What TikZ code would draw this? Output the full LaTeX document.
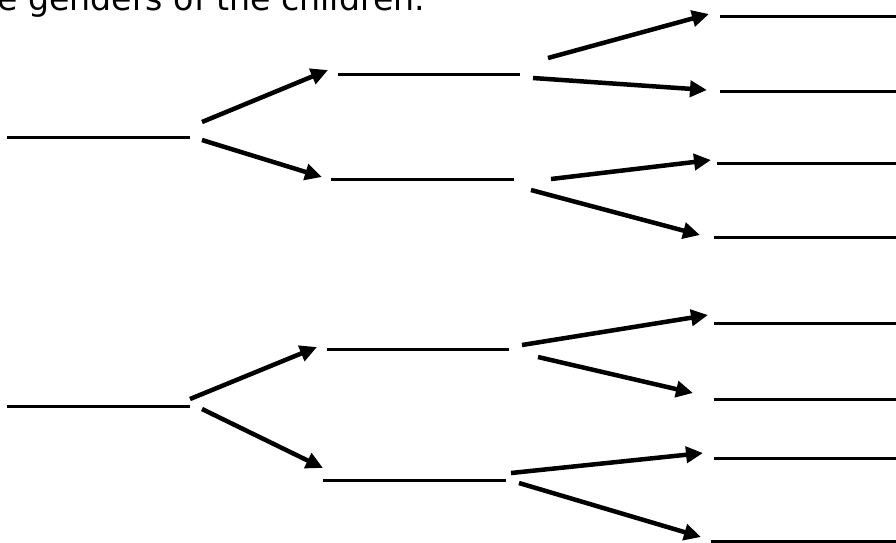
\documentclass[tikz,border=0pt]{standalone}
\usepackage{fontspec}
\setmainfont{DejaVu Sans}
\usetikzlibrary{arrows.meta}
\begin{document}
\begin{tikzpicture}[x=1pt,y=-1pt,
  blankline/.style={line width=3pt},
  branch/.style={line width=4.5pt,-{Triangle[length=17pt,width=16pt]}}]
\useasboundingbox (0,0) rectangle (896,542);
\node[anchor=base west, inner sep=0, font=\fontsize{33.2}{40}\selectfont] (title) at (-3,10) {e genders of the children.};
% blanks: level 1
\coordinate (P1w) at (7,137);   \coordinate (P1e) at (190,137);
\coordinate (P2w) at (7,406);   \coordinate (P2e) at (190,406);
% level 2
\coordinate (Q1w) at (338,74);  \coordinate (Q1e) at (520,74);
\coordinate (Q2w) at (331,179); \coordinate (Q2e) at (514,179);
\coordinate (Q3w) at (327,349); \coordinate (Q3e) at (509,349);
\coordinate (Q4w) at (323,480); \coordinate (Q4e) at (506,480);
% level 3
\coordinate (R1w) at (720,16);  \coordinate (R1e) at (900,16);
\coordinate (R2w) at (720,91);  \coordinate (R2e) at (900,91);
\coordinate (R3w) at (717,163); \coordinate (R3e) at (900,163);
\coordinate (R4w) at (714,237); \coordinate (R4e) at (900,237);
\coordinate (R5w) at (714,323); \coordinate (R5e) at (900,323);
\coordinate (R6w) at (714,399); \coordinate (R6e) at (900,399);
\coordinate (R7w) at (714,458); \coordinate (R7e) at (900,458);
\coordinate (R8w) at (711,541); \coordinate (R8e) at (900,541);
\foreach \n in {P1,P2,Q1,Q2,Q3,Q4,R1,R2,R3,R4,R5,R6,R7,R8}
  \draw[blankline] (\n w) -- (\n e);
% arrow end points
\coordinate (a1s) at (202,122); \coordinate (a1t) at (328,70);
\coordinate (a2s) at (202,140); \coordinate (a2t) at (322,177);
\coordinate (a3s) at (548,58);  \coordinate (a3t) at (709,14);
\coordinate (a4s) at (533,78);  \coordinate (a4t) at (707,90);
\coordinate (a5s) at (551,179); \coordinate (a5t) at (711,160);
\coordinate (a6s) at (531,190); \coordinate (a6t) at (700,235);
\coordinate (a7s) at (190,399); \coordinate (a7t) at (317,347);
\coordinate (a8s) at (202,409); \coordinate (a8t) at (323,468);
\coordinate (a9s) at (522,345); \coordinate (a9t) at (708,315);
\coordinate (a10s) at (538,357); \coordinate (a10t) at (693,393);
\coordinate (a11s) at (511,473); \coordinate (a11t) at (703,453);
\coordinate (a12s) at (519,483); \coordinate (a12t) at (701,537);
\foreach \i in {1,...,12}
  \draw[branch] (a\i s) -- (a\i t);
\end{tikzpicture}
\end{document}
